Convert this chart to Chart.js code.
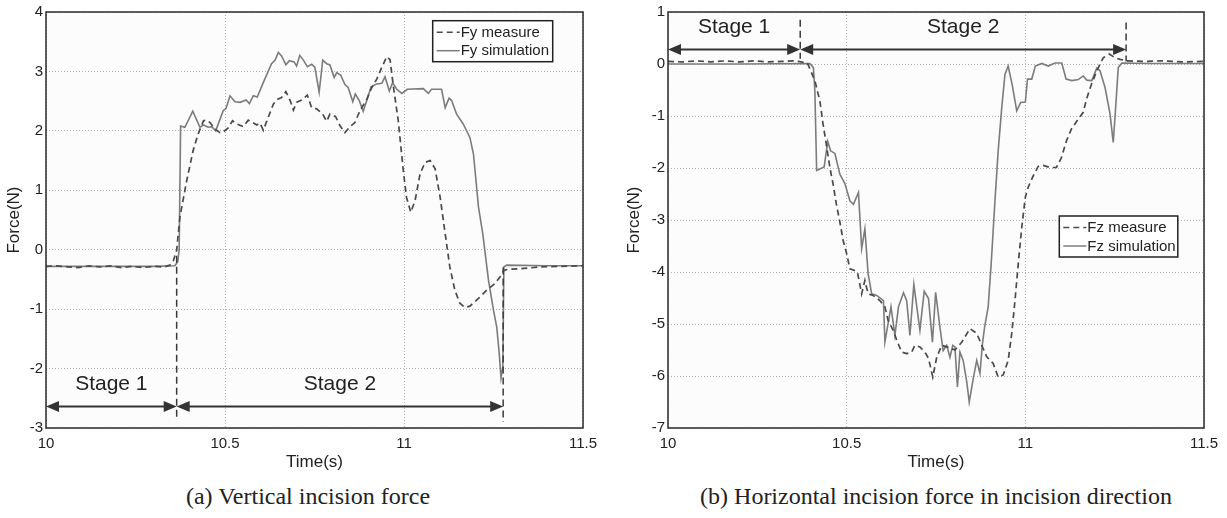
<!DOCTYPE html>
<html lang="en">
<head>
<meta charset="UTF-8">
<title>Incision force</title>
<script src="https://cdn.jsdelivr.net/npm/chart.js@4.4.0/dist/chart.umd.min.js"></script>
<style>
    body {
        margin: 0;
        background: #fff;
        width: 1227px;
        height: 518px;
        overflow: hidden;
        position: relative;
    }
    .panel { position: absolute; top: 0; height: 480px; }
    #panelA { left: 0; width: 610px; }
    #panelB { left: 612px; width: 615px; }
    .caption {
        position: absolute;
        top: 482px;
        line-height: 28px;
        font-family: "Liberation Serif", "Times New Roman", serif;
        font-size: 24px;
        color: #222;
        text-align: center;
        white-space: nowrap;
    }
</style>
</head>
<body>
<div class="panel" id="panelA"><canvas id="chartA"></canvas></div>
<div class="panel" id="panelB"><canvas id="chartB"></canvas></div>
<div class="caption" style="left:108px;width:400px;">(a) Vertical incision force</div>
<div class="caption" style="left:636px;width:600px;">(b) Horizontal incision force in incision direction</div>

<script>
// axis ticks
const timeTicks = [10, 10.5, 11, 11.5];
const forceTicksA = [-3, -2, -1, 0, 1, 2, 3, 4];
const forceTicksB = [-7, -6, -5, -4, -3, -2, -1, 0, 1];
const stageLabels = ['Stage 1', 'Stage 2'];
const stageEdgesA = [10, 10.365, 11.277];
const stageEdgesB = [10, 10.37, 11.282];

// (a) vertical force Fy
const fyMeasureT = [10, 10.03, 10.06, 10.09, 10.12, 10.15, 10.18, 10.21, 10.24, 10.27, 10.3, 10.33,
    10.346, 10.356, 10.365, 10.374, 10.393, 10.411, 10.425, 10.44, 10.449, 10.458, 10.472, 10.486,
    10.497, 10.509, 10.521, 10.532, 10.551, 10.565, 10.577, 10.589, 10.598, 10.607, 10.621, 10.635,
    10.646, 10.658, 10.67, 10.682, 10.691, 10.70, 10.714, 10.73, 10.742, 10.756, 10.773, 10.784,
    10.793, 10.809, 10.821, 10.835, 10.849, 10.863, 10.877, 10.896, 10.91, 10.924, 10.938, 10.952,
    10.961, 10.97, 10.984, 10.998, 11.007, 11.019, 11.031, 11.045, 11.059, 11.073, 11.087, 11.101,
    11.115, 11.128, 11.142, 11.156, 11.17, 11.184, 11.208, 11.231, 11.254, 11.268, 11.279, 11.291,
    11.324, 11.38, 11.44, 11.5];
const fyMeasure = [-0.28, -0.27, -0.29, -0.30, -0.27, -0.29, -0.27, -0.30, -0.28, -0.30, -0.28, -0.29,
    -0.26, -0.18, -0.01, 0.55, 1.16, 1.67, 1.95, 2.17, 2.18, 2.14, 2.03, 1.97,
    1.99, 2.05, 2.17, 2.12, 2.07, 2.18, 2.14, 2.10, 2.13, 2.01, 2.23, 2.45,
    2.53, 2.56, 2.66, 2.51, 2.35, 2.48, 2.52, 2.60, 2.39, 2.37, 2.28, 2.16,
    2.28, 2.24, 2.09, 1.97, 2.07, 2.14, 2.34, 2.53, 2.73, 2.87, 3.07, 3.25,
    3.20, 2.76, 2.17, 1.33, 0.88, 0.63, 0.83, 1.28, 1.47, 1.50, 1.36, 0.88,
    0.27, -0.29, -0.68, -0.90, -0.97, -0.95, -0.82, -0.68, -0.57, -0.46, -0.35, -0.33,
    -0.32, -0.29, -0.28, -0.27];
const fySimT = [10, 10.1, 10.2, 10.3, 10.36, 10.368, 10.372, 10.376, 10.388, 10.41, 10.43, 10.44,
    10.453, 10.463, 10.474, 10.495, 10.503, 10.514, 10.528, 10.542, 10.559, 10.568, 10.579, 10.59,
    10.609, 10.63, 10.64, 10.649, 10.658, 10.67, 10.68, 10.693, 10.70, 10.709, 10.719, 10.73,
    10.742, 10.751, 10.763, 10.773, 10.784, 10.793, 10.805, 10.812, 10.823, 10.835, 10.844, 10.857,
    10.864, 10.875, 10.886, 10.896, 10.908, 10.924, 10.938, 10.947, 10.959, 10.968, 10.98, 10.994,
    11.009, 11.054, 11.068, 11.077, 11.105, 11.115, 11.126, 11.133, 11.147, 11.165, 11.184, 11.194,
    11.208, 11.22, 11.236, 11.25, 11.259, 11.266, 11.271, 11.276, 11.279, 11.287, 11.4, 11.5];
const fySim = [-0.28, -0.28, -0.28, -0.28, -0.27, -0.2, 0.0, 2.08, 2.06, 2.33, 2.06, 2.10,
    2.06, 2.07, 2.00, 2.34, 2.38, 2.59, 2.49, 2.48, 2.52, 2.46, 2.59, 2.57,
    2.84, 3.13, 3.19, 3.32, 3.26, 3.11, 3.18, 3.16, 3.09, 3.27, 3.19, 3.08,
    3.12, 3.07, 2.65, 3.19, 3.13, 3.11, 2.90, 2.98, 2.94, 2.78, 2.73, 2.49,
    2.62, 2.51, 2.33, 2.51, 2.74, 2.79, 2.80, 2.91, 2.67, 2.81, 2.70, 2.63,
    2.70, 2.71, 2.63, 2.70, 2.70, 2.39, 2.55, 2.51, 2.28, 2.12, 1.89, 1.61,
    0.72, 0.27, -0.51, -1.02, -1.30, -1.74, -2.16, -1.97, -0.29, -0.26, -0.27, -0.27];

// (b) horizontal force Fz
const fzMeasureT = [10, 10.04, 10.08, 10.12, 10.16, 10.2, 10.24, 10.28, 10.32, 10.35, 10.365, 10.39,
    10.411, 10.425, 10.434, 10.443, 10.453, 10.462, 10.471, 10.481, 10.49, 10.5, 10.509, 10.519,
    10.53, 10.542, 10.551, 10.56, 10.574, 10.593, 10.607, 10.616, 10.63, 10.64, 10.654, 10.668,
    10.682, 10.691, 10.705, 10.719, 10.729, 10.741, 10.752, 10.766, 10.785, 10.803, 10.822, 10.845,
    10.864, 10.878, 10.892, 10.91, 10.924, 10.938, 10.952, 10.962, 10.971, 10.981, 10.99, 11.0,
    11.008, 11.022, 11.036, 11.05, 11.069, 11.087, 11.101, 11.115, 11.129, 11.148, 11.162, 11.171,
    11.185, 11.2, 11.218, 11.235, 11.251, 11.265, 11.284, 11.33, 11.38, 11.44, 11.5];
const fzMeasure = [0.05, 0.04, 0.06, 0.04, 0.06, 0.04, 0.06, 0.04, 0.05, 0.06, 0.05, 0.02,
    -0.32, -0.71, -1.16, -1.54, -1.99, -2.31, -2.69, -3.04, -3.39, -3.65, -3.94, -3.96,
    -4.00, -4.42, -4.16, -4.42, -4.45, -4.55, -4.67, -4.93, -5.12, -5.31, -5.54, -5.57,
    -5.54, -5.41, -5.44, -5.54, -5.66, -6.02, -5.64, -5.41, -5.45, -5.50, -5.35, -5.09,
    -5.18, -5.41, -5.63, -5.76, -6.02, -5.98, -5.70, -5.18, -4.55, -3.78, -3.14, -2.56,
    -2.37, -2.15, -1.97, -1.95, -1.99, -1.99, -1.80, -1.48, -1.25, -1.06, -0.93, -0.68,
    -0.39, -0.13, 0.12, 0.19, 0.12, 0.09, 0.06, 0.05, 0.06, 0.04, 0.05];
const fzSimT = [10, 10.2, 10.397, 10.407, 10.411, 10.416, 10.425, 10.437, 10.447, 10.455, 10.467, 10.481,
    10.495, 10.509, 10.519, 10.533, 10.542, 10.551, 10.56, 10.57, 10.584, 10.603, 10.607, 10.624,
    10.635, 10.645, 10.659, 10.668, 10.677, 10.688, 10.705, 10.717, 10.729, 10.74, 10.749, 10.761,
    10.77, 10.78, 10.789, 10.797, 10.803, 10.81, 10.817, 10.826, 10.836, 10.843, 10.855, 10.864,
    10.873, 10.88, 10.886, 10.896, 10.905, 10.915, 10.924, 10.934, 10.943, 10.952, 10.963, 10.976,
    10.987, 11.0, 11.006, 11.018, 11.028, 11.046, 11.064, 11.083, 11.102, 11.114, 11.13, 11.148,
    11.162, 11.172, 11.186, 11.2, 11.209, 11.223, 11.237, 11.246, 11.254, 11.26, 11.27, 11.35, 11.5];
const fzSim = [0.0, 0.0, 0.01, -0.07, -0.52, -2.05, -2.02, -1.98, -1.49, -1.67, -1.72, -2.12,
    -2.30, -2.63, -2.70, -2.47, -3.55, -3.17, -4.03, -4.42, -4.45, -4.55, -5.35, -4.67,
    -5.22, -4.67, -4.40, -4.55, -5.22, -4.24, -5.12, -4.37, -4.51, -5.35, -4.39, -5.06,
    -5.51, -5.41, -5.64, -5.41, -5.44, -6.21, -5.54, -5.70, -6.11, -6.50, -6.02, -5.70,
    -5.95, -5.38, -5.06, -4.67, -3.78, -2.63, -1.67, -0.84, -0.20, -0.04, -0.39, -0.90,
    -0.74, -0.73, -0.29, -0.29, -0.04, 0.01, -0.04, 0.02, 0.02, -0.29, -0.32, -0.30,
    -0.23, -0.31, -0.32, -0.08, -0.13, -0.45, -0.96, -1.51, -0.71, -0.07, 0.02, 0.01, 0.01];

const FONT = '"Liberation Sans", Arial, sans-serif';
const INK = '#222';
const MEASURE_COLOR = '#4a4a4a';
const SIM_COLOR = '#7c7c7c';

Chart.defaults.font.family = FONT;
Chart.defaults.color = INK;

function pairs(ts, vs) {
    return ts.map((t, i) => ({ x: t, y: vs[i] }));
}

// plot background, frame, stage arrows and boxed legend
const matlabLook = {
    id: 'matlabLook',
    beforeDraw(chart) {
        const { ctx, chartArea: a } = chart;
        ctx.save();
        ctx.fillStyle = '#fcfcfc';
        ctx.fillRect(a.left, a.top, a.right - a.left, a.bottom - a.top);
        ctx.restore();
    },
    afterDatasetsDraw(chart, args, opts) {
        const { ctx, scales: { x, y } } = chart;
        const st = opts.stage;
        ctx.save();
        // dashed boundary markers
        ctx.strokeStyle = '#3a3a3a';
        ctx.lineWidth = 1.5;
        ctx.setLineDash([7, 4]);
        st.markers.forEach(m => {
            ctx.beginPath();
            ctx.moveTo(x.getPixelForValue(m.x), y.getPixelForValue(m.y1));
            ctx.lineTo(x.getPixelForValue(m.x), y.getPixelForValue(m.y2));
            ctx.stroke();
        });
        ctx.setLineDash([]);
        // double arrows
        const ay = y.getPixelForValue(st.arrowY);
        ctx.strokeStyle = '#333';
        ctx.fillStyle = '#333';
        ctx.lineWidth = 2;
        for (let i = 0; i < st.edges.length - 1; i++) {
            const x0 = x.getPixelForValue(st.edges[i]);
            const x1 = x.getPixelForValue(st.edges[i + 1]);
            ctx.beginPath();
            ctx.moveTo(x0 + 6, ay);
            ctx.lineTo(x1 - 6, ay);
            ctx.stroke();
            [[x0, 1], [x1, -1]].forEach(([tx, dir]) => {
                ctx.beginPath();
                ctx.moveTo(tx, ay);
                ctx.lineTo(tx + dir * 13, ay - 5.5);
                ctx.lineTo(tx + dir * 13, ay + 5.5);
                ctx.closePath();
                ctx.fill();
            });
            ctx.font = '21px ' + FONT;
            ctx.textAlign = 'center';
            ctx.textBaseline = 'middle';
            ctx.fillStyle = INK;
            ctx.fillText(stageLabels[i], (x0 + x1) / 2, ay - 22);
            ctx.fillStyle = '#333';
        }
        ctx.restore();
    },
    afterDraw(chart, args, opts) {
        const { ctx, chartArea: a } = chart;
        ctx.save();
        ctx.strokeStyle = '#2a2a2a';
        ctx.lineWidth = 1.5;
        ctx.strokeRect(a.left, a.top, a.right - a.left, a.bottom - a.top);
        // legend
        const b = opts.legend;
        ctx.fillStyle = '#fff';
        ctx.fillRect(b.x, b.y, b.w, b.h);
        ctx.strokeStyle = '#222';
        ctx.lineWidth = 1.5;
        ctx.strokeRect(b.x, b.y, b.w, b.h);
        ctx.font = '15px ' + FONT;
        ctx.textBaseline = 'middle';
        ctx.textAlign = 'left';
        chart.data.datasets.forEach((ds, i) => {
            const ry = b.y + 11.5 + i * 18.5;
            ctx.strokeStyle = ds.borderColor;
            ctx.lineWidth = 1.5;
            ctx.setLineDash(ds.borderDash || []);
            ctx.beginPath();
            ctx.moveTo(b.x + 4, ry);
            ctx.lineTo(b.x + 27, ry);
            ctx.stroke();
            ctx.setLineDash([]);
            ctx.fillStyle = INK;
            ctx.fillText(ds.label, b.x + 28, ry + 0.5);
        });
        ctx.restore();
    }
};

function makeChart(id, cfg) {
    return new Chart(document.getElementById(id), {
        type: 'line',
        data: {
            datasets: [
                { label: cfg.names[0], data: cfg.measure, borderColor: MEASURE_COLOR, borderWidth: 1.7, borderDash: [6, 4] },
                { label: cfg.names[1], data: cfg.sim, borderColor: SIM_COLOR, borderWidth: 1.6 }
            ]
        },
        options: {
            responsive: true,
            maintainAspectRatio: false,
            animation: false,
            elements: { point: { radius: 0 }, line: { tension: 0, fill: false } },
            layout: { padding: cfg.padding },
            plugins: {
                legend: { display: false },
                tooltip: { enabled: false },
                matlabLook: { stage: cfg.stage, legend: cfg.legend }
            },
            scales: {
                x: {
                    type: 'linear',
                    min: 10,
                    max: 11.5,
                    afterBuildTicks: s => { s.ticks = timeTicks.map(v => ({ value: v })); },
                    afterFit: s => { s.height = 52; },
                    ticks: { font: { size: 15 }, color: INK, padding: 7, maxRotation: 0, autoSkip: false, callback: v => String(v) },
                    grid: { color: '#b0b0b0', lineWidth: 1, drawTicks: false },
                    border: { display: false, dash: [1, 2] },
                    title: { display: true, text: 'Time(s)', font: { size: 17 }, color: INK, padding: { top: 0, bottom: 7 } }
                },
                y: {
                    type: 'linear',
                    min: cfg.yTicks[0],
                    max: cfg.yTicks[cfg.yTicks.length - 1],
                    afterBuildTicks: s => { s.ticks = cfg.yTicks.map(v => ({ value: v })); },
                    afterFit: s => { s.width = cfg.yWidth; },
                    ticks: { font: { size: 15 }, color: INK, padding: 3, callback: v => String(v) },
                    grid: { color: '#b0b0b0', lineWidth: 1, drawTicks: false },
                    border: { display: false, dash: [1, 2] },
                    title: { display: true, text: 'Force(N)', font: { size: 17 }, color: INK, padding: { top: cfg.titlePad, bottom: 0 } }
                }
            }
        },
        plugins: [matlabLook]
    });
}

makeChart('chartA', {
    names: ['Fy measure', 'Fy simulation'],
    measure: pairs(fyMeasureT, fyMeasure),
    sim: pairs(fySimT, fySim),
    yTicks: forceTicksA,
    yWidth: 46,
    titlePad: 4,
    padding: { top: 11, right: 27, left: 0, bottom: 0 },
    legend: { x: 432.7, y: 20.7, w: 120, h: 41 },
    stage: {
        edges: stageEdgesA,
        arrowY: -2.64,
        markers: [{ x: 10.365, y1: -0.1, y2: -2.88 }, { x: 11.277, y1: -0.3, y2: -2.9 }]
    }
});

makeChart('chartB', {
    names: ['Fz measure', 'Fz simulation'],
    measure: pairs(fzMeasureT, fzMeasure),
    sim: pairs(fzSimT, fzSim),
    yTicks: forceTicksB,
    yWidth: 56,
    titlePad: 12,
    padding: { top: 11, right: 23, left: 0, bottom: 0 },
    legend: { x: 447.3, y: 216, w: 118.5, h: 41 },
    stage: {
        edges: stageEdgesB,
        arrowY: 0.28,
        markers: [{ x: 10.37, y1: 0.85, y2: 0.1 }, { x: 11.282, y1: 0.8, y2: 0.05 }]
    }
});
</script>
</body>
</html>
